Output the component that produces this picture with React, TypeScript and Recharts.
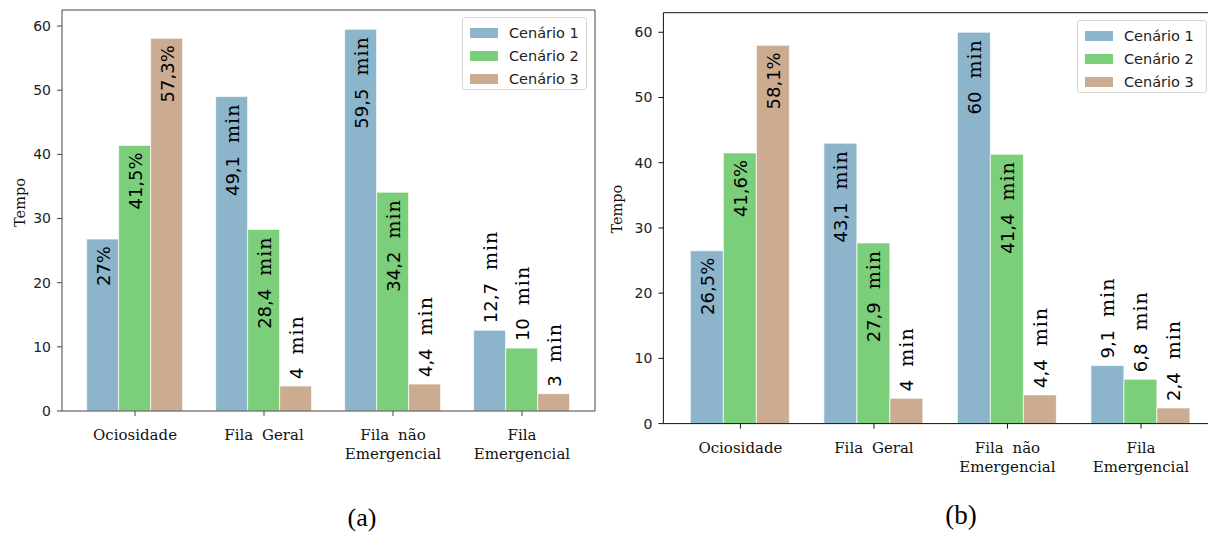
import React from 'react';
import { BarChart, Bar, XAxis, YAxis, Legend, LabelList, Label } from 'recharts';

// categorias e series
const categorias = ['Ociosidade', 'Fila Geral', 'Fila não\nEmergencial', 'Fila\nEmergencial'];
const cenarios = ['Cenário 1', 'Cenário 2', 'Cenário 3'];
const cores = ['#8cb5cc', '#7ccf7a', '#ccac91'];
const ticksY = [0, 10, 20, 30, 40, 50, 60];

// grafico (a)
const a1 = [26.8, 49.0, 59.5, 12.6];
const a2 = [41.4, 28.3, 34.1, 9.8];
const a3 = [58.1, 3.9, 4.2, 2.7];
const rotA1 = ['27%', '49,1 min', '59,5 min', '12,7 min'];
const rotA2 = ['41,5%', '28,4 min', '34,2 min', '10 min'];
const rotA3 = ['57,3%', '4 min', '4,4 min', '3 min'];

// grafico (b)
const b1 = [26.5, 43.0, 60.0, 8.9];
const b2 = [41.5, 27.7, 41.3, 6.8];
const b3 = [58.0, 3.9, 4.4, 2.4];
const rotB1 = ['26,5%', '43,1 min', '60 min', '9,1 min'];
const rotB2 = ['41,6%', '27,9 min', '41,4 min', '6,8 min'];
const rotB3 = ['58,1%', '4 min', '4,4 min', '2,4 min'];

const montar = (s1, s2, s3, r1, r2, r3) =>
  categorias.map((nome, i) => ({
    nome,
    c1: s1[i], c2: s2[i], c3: s3[i],
    t1: r1[i], t2: r2[i], t3: r3[i],
  }));

const dadosA = montar(a1, a2, a3, rotA1, rotA2, rotA3);
const dadosB = montar(b1, b2, b3, rotB1, rotB2, rotB3);

const SANS = 'DejaVu Sans';
const SERIF = 'DejaVu Serif';

// rotulo vertical: dentro da barra se alta, acima se baixa
const RotuloBarra = (props: any) => {
  const { x, y, width, value } = props;
  const txt = String(value);
  const num = parseFloat(txt.replace(',', '.'));
  const dentro = num > 20;
  const cx = x + width / 2;
  const ty = dentro ? y + 7 : y - 7;
  const [n, unidade] = txt.split(' ');
  return (
    <text
      transform={`translate(${cx},${ty}) rotate(-90)`}
      textAnchor={dentro ? 'end' : 'start'}
      dominantBaseline="central"
      fill="#000"
      fontSize={18}
      fontFamily={SANS}
    >
      <tspan>{n}</tspan>
      {unidade && (
        <tspan dx={13} fontFamily={SERIF} fontSize={19} letterSpacing={1}>
          {unidade}
        </tspan>
      )}
    </text>
  );
};

const TickCategoria = (props: any) => {
  const { x, y, payload } = props;
  const linhas = String(payload.value).split('\n');
  return (
    <text x={x} y={y} textAnchor="middle" fontFamily={SERIF} fontSize={15} fill="#111" style={{ wordSpacing: 4 }}>
      {linhas.map((l, i) => (
        <tspan key={i} x={x} dy={i === 0 ? 22 : 19}>{l}</tspan>
      ))}
    </text>
  );
};

const legenda = (box: any) => (props: any) => (
  <div
    style={{
      position: 'absolute', left: box.left, top: box.top, width: box.width, height: 73,
      boxSizing: 'border-box', background: '#fff', border: '1px solid #d6d6d6', borderRadius: 3,
      padding: '3px 0 0 7px', fontFamily: SANS, fontSize: 14.5, color: '#222',
    }}
  >
    {(props.payload || []).map((e: any, i: number) => (
      <div key={i} style={{ display: 'flex', alignItems: 'center', height: 23 }}>
        <span style={{ width: 28, height: 10, background: e.color, marginRight: 11 }} />
        <span>{e.value}</span>
      </div>
    ))}
  </div>
);

const rotuloTempo = (dx: number, dy: number) => (props: any) => {
  const vb = props.viewBox;
  const cx = dx;
  const cy = vb.y + vb.height / 2 + dy;
  return (
    <text
      transform={`translate(${cx},${cy}) rotate(-90)`}
      textAnchor="middle"
      dominantBaseline="central"
      fontFamily={SERIF}
      fontSize={14.5}
      fill="#111"
    >
      Tempo
    </text>
  );
};

function Painel({ dados, width, height, margin, yWidth, xHeight, padX, dominio, moldura, caixa, tempo }: any) {
  return (
    <BarChart width={width} height={height} data={dados} margin={margin} barCategoryGap="12.5%" barGap={0}>
      <XAxis
        dataKey="nome"
        height={xHeight}
        padding={{ left: padX, right: padX }}
        tickSize={5}
        tickLine={{ stroke: moldura }}
        axisLine={{ stroke: moldura }}
        tick={<TickCategoria />}
        interval={0}
      />
      {/* moldura superior e direita */}
      <XAxis xAxisId="topo" orientation="top" type="number" domain={[0, 1]} height={1} tick={false} tickLine={false} axisLine={{ stroke: moldura }} />
      <YAxis
        width={yWidth}
        domain={dominio}
        ticks={ticksY}
        tickSize={5}
        tickMargin={6}
        tickLine={{ stroke: moldura }}
        axisLine={{ stroke: moldura }}
        tick={{ fontFamily: SANS, fontSize: 14, fill: '#222' }}
        allowDataOverflow
      >
        <Label content={rotuloTempo(tempo.x, tempo.dy)} />
      </YAxis>
      <YAxis yAxisId="dir" orientation="right" type="number" domain={[0, 1]} width={1} tick={false} tickLine={false} axisLine={{ stroke: moldura }} />
      <Legend layout="horizontal" verticalAlign="middle" align="center" content={legenda(caixa)} wrapperStyle={{ top: 0, left: 0, width: 0, height: 0 }} />
      {['c1', 'c2', 'c3'].map((k, i) => (
        <Bar
          key={k}
          dataKey={k}
          name={cenarios[i]}
          fill={cores[i]}
          stroke="#fff"
          strokeOpacity={0.7}
          strokeWidth={1}
          isAnimationActive={false}
        >
          <LabelList dataKey={'t' + (i + 1)} content={<RotuloBarra />} />
        </Bar>
      ))}
    </BarChart>
  );
}

export default function App() {
  return (
    <div style={{ position: 'absolute', left: 0, top: 0, width: 1208, height: 537, overflow: 'hidden', background: '#fff' }}>
      <div style={{ position: 'absolute', left: 0, top: 0 }}>
        <Painel
          dados={dadosA}
          width={600}
          height={470}
          margin={{ top: 9, right: 4, bottom: 0, left: 0 }}
          yWidth={62}
          xHeight={59}
          padX={8.5}
          dominio={[0, 62.5]}
          moldura="#444"
          caixa={{ left: 462, top: 17, width: 125 }}
          tempo={{ x: 20, dy: -8 }}
        />
      </div>
      <div style={{ position: 'absolute', left: 600, top: 0 }}>
        <Painel
          dados={dadosB}
          width={640}
          height={480}
          margin={{ top: 11.7, right: 21, bottom: 0, left: 0 }}
          yWidth={63.4}
          xHeight={56.4}
          padX={10.25}
          dominio={[0, 63]}
          moldura="#111"
          caixa={{ left: 477, top: 20, width: 130 }}
          tempo={{ x: 17, dy: -9 }}
        />
      </div>
      <div style={{ position: 'absolute', left: 312, width: 100, top: 503, textAlign: 'center', fontFamily: 'Liberation Serif', fontSize: 26, color: '#000' }}>(a)</div>
      <div style={{ position: 'absolute', left: 911, width: 100, top: 500, textAlign: 'center', fontFamily: 'Liberation Serif', fontSize: 27, color: '#000' }}>(b)</div>
    </div>
  );
}
